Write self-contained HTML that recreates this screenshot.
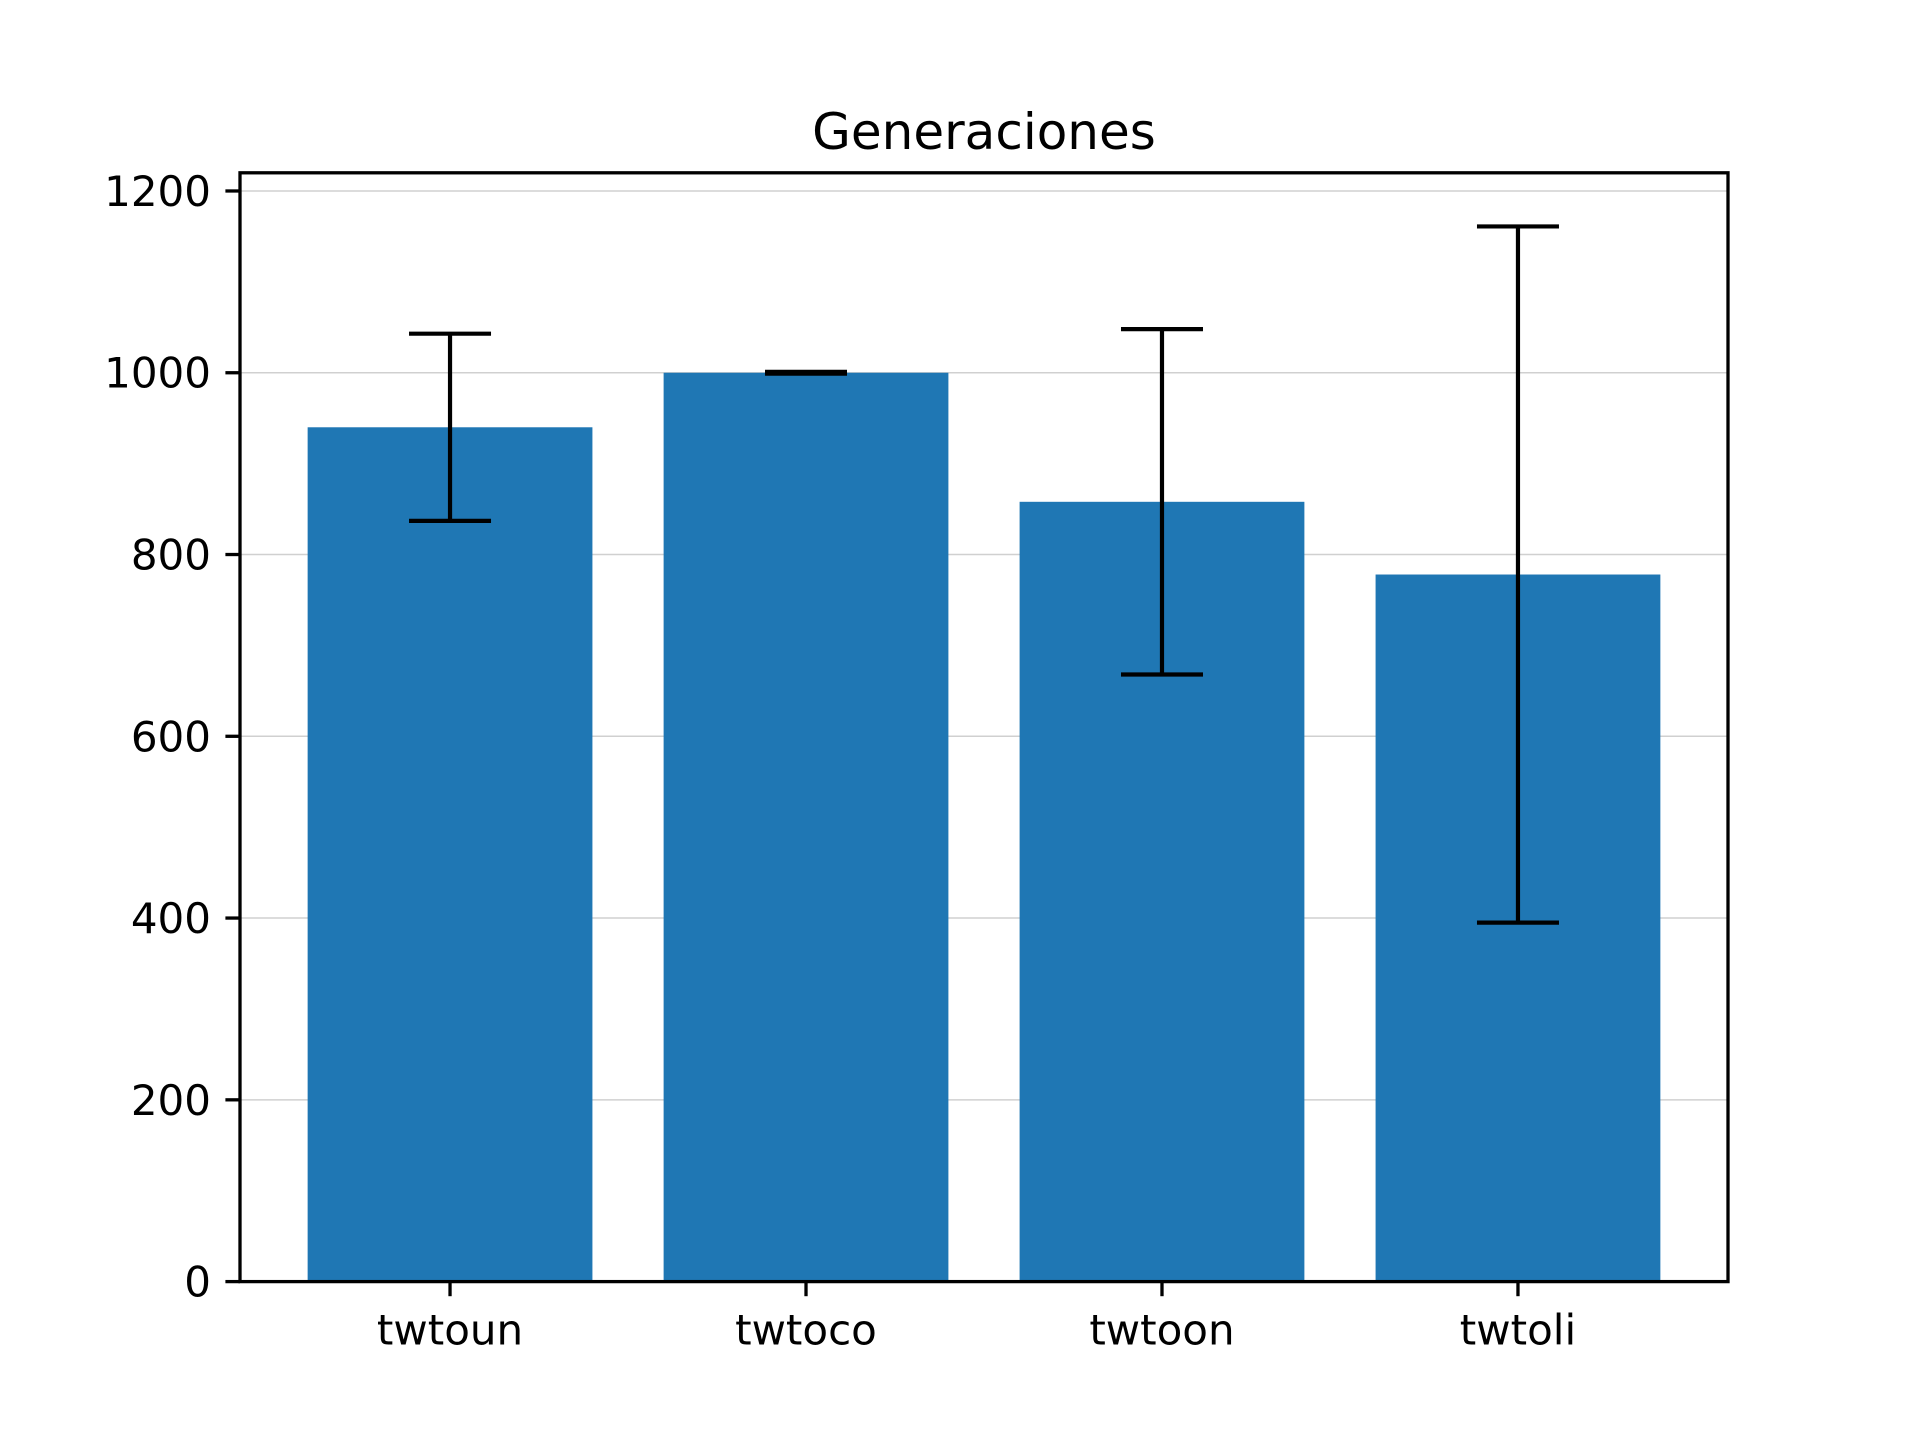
<!DOCTYPE html>
<html><head><meta charset="utf-8"><style>body{margin:0;background:#fff}svg{display:block}text{font-family:"DejaVu Sans","Liberation Sans",sans-serif;fill:#000}</style></head>
<body>
<svg id="chart" width="1920" height="1440" viewBox="0 0 1920 1440" xmlns="http://www.w3.org/2000/svg">
<rect width="1920" height="1440" fill="#fff"/>
<g id="grid"></g><g id="bars"></g><g id="errs"></g><g id="axes"></g>
<text x="984" y="149" font-size="50" text-anchor="middle">Generaciones</text>
</svg>
<script>
const categories = ["twtoun","twtoco","twtoon","twtoli"];
const values = [940, 1000, 858, 778];
const errors = [103, 1, 190, 383];
const yTicks = [0,200,400,600,800,1000,1200];

const L=240,R=1728,T=172.8,B=1281.6,YMAX=1220;
const ns="http://www.w3.org/2000/svg";
const y=v=>B-(v/YMAX)*(B-T);
const step=(R-L)/4.18;
const x=i=>L+step*(0.59+i);
const bw=step*0.8;
function mk(tag,attrs,parent){const e=document.createElementNS(ns,tag);for(const k in attrs)e.setAttribute(k,attrs[k]);document.getElementById(parent).appendChild(e);return e;}
yTicks.forEach(t=>{
  const g=mk('line',{x1:L,x2:R,y1:y(t),y2:y(t),stroke:'#d0d0d0','stroke-width':1.5},'grid');
  
  
  const tk=mk('line',{x1:L-14.6,x2:L,y1:y(t),y2:y(t),stroke:'#000','stroke-width':3.3},'axes');
  
  
  const lb=mk('text',{x:L-29,y:y(t)+15,'font-size':42,'text-anchor':'end'},'axes');
  lb.textContent=t;
  
  
});
categories.forEach((c,i)=>{
  const cx=x(i);
  const b=mk('rect',{x:cx-bw/2,y:y(values[i]),width:bw,height:B-y(values[i]),fill:'#1f77b4'},'bars');
  
  
  const hi=y(values[i]+errors[i]),lo=y(values[i]-errors[i]);
  const e=mk('path',{d:`M${cx},${hi}V${lo}M${cx-41},${hi}H${cx+41}M${cx-41},${lo}H${cx+41}`,stroke:'#000','stroke-width':4.2,fill:'none'},'errs');
  
  
  const tk=mk('line',{x1:cx,x2:cx,y1:B,y2:B+14.6,stroke:'#000','stroke-width':3.3},'axes');
  
  
  const lb=mk('text',{x:cx,y:B+63,'font-size':42,'text-anchor':'middle'},'axes');
  lb.textContent=c;
  
  
});
const fr=mk('rect',{x:L,y:T,width:R-L,height:B-T,fill:'none',stroke:'#000','stroke-width':3.3},'axes');


</script>
</body></html>
